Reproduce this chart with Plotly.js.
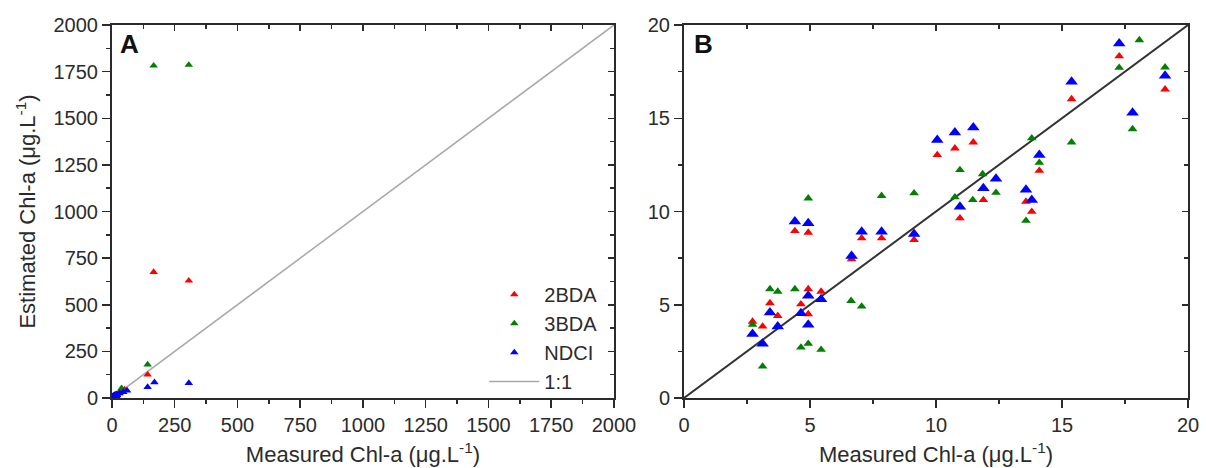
<!DOCTYPE html>
<html>
<head>
<meta charset="utf-8">
<script src="https://cdn.plot.ly/plotly-3.0.1.min.js"></script>
<style>html,body{margin:0;padding:0;background:#fff;}#chart{width:1206px;height:468px;}</style>
</head>
<body>
<div id="chart"></div>
<script>
// ---- Panel B data (measured vs estimated Chl-a, µg/L) ----
var bda2_x = [2.72,3.12,3.41,3.72,4.40,4.64,4.93,4.93,4.93,5.44,6.65,7.05,7.84,9.13,10.05,10.75,10.95,11.48,11.88,13.57,13.80,14.10,15.38,17.27,19.09];
var bda2_y = [4.10,3.84,5.09,4.41,8.96,5.03,5.84,4.50,8.87,5.71,7.45,8.57,8.57,8.48,13.03,13.39,9.64,13.71,10.62,10.53,9.99,12.19,16.03,18.33,16.55];

var bda3_x = [2.72,3.12,3.41,3.72,4.40,4.64,4.93,4.93,5.44,6.63,7.05,7.84,9.13,10.75,10.95,11.46,11.85,12.38,13.57,13.80,14.10,15.38,17.27,17.80,18.07,19.09];
var bda3_y = [3.93,1.69,5.84,5.71,5.84,2.71,2.91,10.71,2.59,5.21,4.91,10.84,10.98,10.77,12.23,10.62,12.01,11.01,9.51,13.93,12.62,13.71,17.71,14.42,19.19,17.73];

var ndci_x = [2.72,3.12,3.41,3.72,4.40,4.64,4.93,4.93,4.93,5.44,6.65,7.05,7.84,9.13,10.05,10.75,10.95,11.48,11.88,12.38,13.57,13.80,14.10,15.38,17.27,17.80,19.09];
var ndci_y = [3.43,2.91,4.59,3.84,9.46,4.55,5.48,3.93,9.37,5.30,7.62,8.92,8.92,8.80,13.83,14.23,10.26,14.51,11.25,11.75,11.16,10.62,13.03,16.96,19.01,15.30,17.28];

// ---- Additional samples shown only in panel A (full range) ----
var bda2_xA = [35,50,142,166,306];
var bda2_yA = [38,45,125,675,629];
var bda3_xA = [28,38,142,166,306];
var bda3_yA = [30,52,179,1782,1786];
var ndci_xA = [30,45,60,142,169,306];
var ndci_yA = [25,32,40,59,84,80];

var oneToOneA = [0, 2000];
var oneToOneB = [0, 20];

var seriesNames = ['2BDA','3BDA','NDCI','1:1'];
var seriesColors = ['#ff0000','#008000','#0000ff'];

var FONT = 'Liberation Sans, Arial, Helvetica, sans-serif';
var INK = '#2b2b2b';

var traces = [
  // Panel A
  {x: oneToOneA, y: oneToOneA, mode:'lines', name: seriesNames[3], line:{color:'#a8a8a8', width:1.5}, xaxis:'x', yaxis:'y', legendrank:4, hoverinfo:'skip'},
  {x: bda2_x.concat(bda2_xA), y: bda2_y.concat(bda2_yA), mode:'markers', name: seriesNames[0], marker:{symbol:'triangle-up', size:7.5, color:seriesColors[0]}, xaxis:'x', yaxis:'y', legendrank:1},
  {x: bda3_x.concat(bda3_xA), y: bda3_y.concat(bda3_yA), mode:'markers', name: seriesNames[1], marker:{symbol:'triangle-up', size:7.5, color:seriesColors[1]}, xaxis:'x', yaxis:'y', legendrank:2},
  {x: ndci_x.concat(ndci_xA), y: ndci_y.concat(ndci_yA), mode:'markers', name: seriesNames[2], marker:{symbol:'triangle-up', size:7.5, color:seriesColors[2]}, xaxis:'x', yaxis:'y', legendrank:3},
  // Panel B
  {x: oneToOneB, y: oneToOneB, mode:'lines', showlegend:false, line:{color:'#333333', width:2}, xaxis:'x2', yaxis:'y2', hoverinfo:'skip'},
  {x: bda2_x, y: bda2_y, mode:'markers', name: seriesNames[0], showlegend:false, marker:{symbol:'triangle-up', size:8.5, color:seriesColors[0]}, xaxis:'x2', yaxis:'y2'},
  {x: bda3_x, y: bda3_y, mode:'markers', name: seriesNames[1], showlegend:false, marker:{symbol:'triangle-up', size:8.5, color:seriesColors[1]}, xaxis:'x2', yaxis:'y2'},
  {x: ndci_x, y: ndci_y, mode:'markers', name: seriesNames[2], showlegend:false, marker:{symbol:'triangle-up', size:11, color:seriesColors[2]}, xaxis:'x2', yaxis:'y2'},
  // helpers for the top/right inward-tick frames
  {x:[null], y:[null], xaxis:'x3', yaxis:'y3', showlegend:false, hoverinfo:'skip', mode:'markers'},
  {x:[null], y:[null], xaxis:'x4', yaxis:'y4', showlegend:false, hoverinfo:'skip', mode:'markers'}
];

function mainAxis(o){
  var base = {
    showgrid:false, zeroline:false, showline:true, linecolor:INK, linewidth:2,
    ticks:'outside', ticklen:8, tickwidth:1.5, tickcolor:INK,
    tickfont:{family:FONT, size:20, color:INK}, fixedrange:true
  };
  for (var k in o) base[k] = o[k];
  return base;
}
function frameAxis(o){
  var base = {
    showgrid:false, zeroline:false, showline:true, linecolor:INK, linewidth:2,
    ticks:'inside', ticklen:6, tickwidth:1.5, tickcolor:INK, showticklabels:false, fixedrange:true
  };
  for (var k in o) base[k] = o[k];
  return base;
}

var xTitle = 'Measured Chl-a (\u03bcg.L<sup>-1</sup>)';
var yTitle = 'Estimated Chl-a (\u03bcg.L<sup>-1</sup>)';
var titleFont = {family:FONT, size:22, color:INK};

var layout = {
  width:1206, height:468,
  margin:{l:112, r:18, t:25, b:70},
  paper_bgcolor:'#fff', plot_bgcolor:'#fff',
  showlegend:true,
  legend:{x:0.346, y:0.33, xanchor:'left', yanchor:'top', bgcolor:'rgba(0,0,0,0)', itemwidth:50,
          font:{family:FONT, size:20, color:INK}, tracegroupgap:0},
  xaxis: mainAxis({domain:[0,0.4665], anchor:'y', range:[0,2000], tick0:0, dtick:250,
          minor:{dtick:125, ticks:'outside', ticklen:4, tickwidth:1.5, tickcolor:INK},
          title:{text:xTitle, font:titleFont, standoff:12}}),
  yaxis: mainAxis({domain:[0,1], anchor:'x', range:[0,2000], tick0:0, dtick:250,
          minor:{dtick:125, ticks:'outside', ticklen:4, tickwidth:1.5, tickcolor:INK},
          title:{text:yTitle, font:titleFont, standoff:12}}),
  xaxis3: frameAxis({overlaying:'x', side:'top', anchor:'y', range:[0,2000], tick0:0, dtick:250,
          minor:{dtick:125, ticks:'inside', ticklen:4, tickwidth:1.5, tickcolor:INK}}),
  yaxis3: frameAxis({overlaying:'y', side:'right', anchor:'x', range:[0,2000], tick0:0, dtick:250,
          minor:{dtick:125, ticks:'inside', ticklen:4, tickwidth:1.5, tickcolor:INK}}),
  xaxis2: mainAxis({domain:[0.5316,1], anchor:'y2', range:[0,20], tick0:0, dtick:5,
          minor:{dtick:2.5, ticks:'outside', ticklen:4, tickwidth:1.5, tickcolor:INK},
          title:{text:xTitle, font:titleFont, standoff:12}}),
  yaxis2: mainAxis({domain:[0,1], anchor:'x2', range:[0,20], tick0:0, dtick:5,
          minor:{dtick:2.5, ticks:'outside', ticklen:4, tickwidth:1.5, tickcolor:INK}}),
  xaxis4: frameAxis({overlaying:'x2', side:'top', anchor:'y2', range:[0,20], tick0:0, dtick:5,
          minor:{dtick:2.5, ticks:'inside', ticklen:4, tickwidth:1.5, tickcolor:INK}}),
  yaxis4: frameAxis({overlaying:'y2', side:'right', anchor:'x2', range:[0,20], tick0:0, dtick:5,
          minor:{dtick:2.5, ticks:'inside', ticklen:4, tickwidth:1.5, tickcolor:INK}}),
  annotations:[
    {text:'<b>A</b>', xref:'paper', yref:'paper', x:0.006, y:0.95, xanchor:'left', yanchor:'middle', showarrow:false, font:{family:FONT, size:26, color:'#111'}},
    {text:'<b>B</b>', xref:'paper', yref:'paper', x:0.539, y:0.95, xanchor:'left', yanchor:'middle', showarrow:false, font:{family:FONT, size:26, color:'#111'}}
  ]
};

Plotly.newPlot('chart', traces, layout, {staticPlot:true, displayModeBar:false}).then(function(gd){
  // drop empty placeholder text nodes (untitled axes)
  var texts = gd.querySelectorAll('text');
  for (var i = 0; i < texts.length; i++) {
    if (!texts[i].textContent || !texts[i].textContent.trim()) texts[i].parentNode.removeChild(texts[i]);
  }
});
</script>
</body>
</html>
